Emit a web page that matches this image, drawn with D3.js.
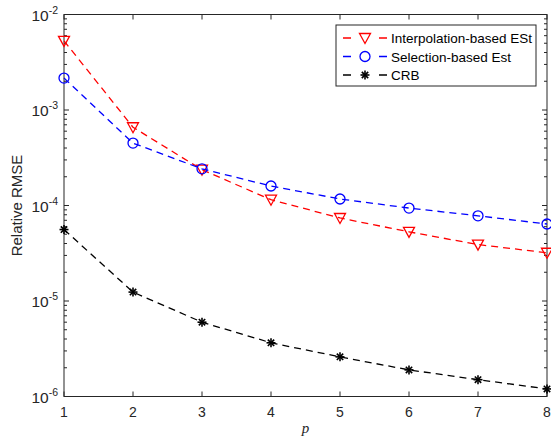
<!DOCTYPE html>
<html>
<head>
<meta charset="utf-8">
<script src="https://cdn.jsdelivr.net/npm/d3@7"></script>
<style>
  body { margin: 0; background: #fff; }
  svg text { font-family: "Liberation Sans", Arial, sans-serif; }
</style>
</head>
<body>
<div id="chart"></div>
<script>
// valori (scala log)
const pValues = [1, 2, 3, 4, 5, 6, 7, 8];
const interpEst = [5.3e-3, 6.6e-4, 2.37e-4, 1.15e-4, 7.4e-5, 5.3e-5, 3.9e-5, 3.2e-5];
const selectEst = [2.16e-3, 4.5e-4, 2.42e-4, 1.6e-4, 1.17e-4, 9.4e-5, 7.8e-5, 6.4e-5];
const crb = [5.6e-5, 1.24e-5, 6.0e-6, 3.65e-6, 2.6e-6, 1.9e-6, 1.5e-6, 1.2e-6];
const yDecades = [-6, -5, -4, -3, -2];
const seriesNames = ['Interpolation-based ESt', 'Selection-based Est', 'CRB'];

const width = 551, height = 439;
const margin = { top: 14.5, right: 4, bottom: 42.5, left: 64 };
const w = width - margin.left - margin.right;
const h = height - margin.top - margin.bottom;
const axisColor = '#262626';

const svg = d3.select('#chart').append('svg')
  .attr('width', width).attr('height', height);

const g = svg.append('g')
  .attr('transform', `translate(${margin.left},${margin.top})`);

const x = d3.scaleLinear().domain([1, 8]).range([0, w]);
const y = d3.scaleLog().domain([1e-6, 1e-2]).range([h, 0]);

// tick minori del log (2..9 per decade)
const minorTicks = [];
yDecades.slice(0, -1).forEach(e => {
  for (let k = 2; k <= 9; k++) minorTicks.push(k * Math.pow(10, e));
});

// assi con tick rivolti all'interno, su tutti e quattro i lati
function drawYTicks(x0, dir) {
  const t = g.append('g');
  t.selectAll('.maj').data(yDecades).join('line')
    .attr('x1', x0).attr('x2', x0 + dir * 5)
    .attr('y1', d => y(Math.pow(10, d))).attr('y2', d => y(Math.pow(10, d)))
    .attr('stroke', axisColor);
  t.selectAll('.min').data(minorTicks).join('line')
    .attr('x1', x0).attr('x2', x0 + dir * 3)
    .attr('y1', d => y(d)).attr('y2', d => y(d))
    .attr('stroke', axisColor);
}
function drawXTicks(y0, dir) {
  g.append('g').selectAll('line').data(pValues).join('line')
    .attr('x1', d => x(d)).attr('x2', d => x(d))
    .attr('y1', y0).attr('y2', y0 + dir * 5)
    .attr('stroke', axisColor);
}
drawYTicks(0, 1);
drawYTicks(w, -1);
drawXTicks(h, -1);
drawXTicks(0, 1);

g.append('rect')
  .attr('width', w).attr('height', h)
  .attr('fill', 'none').attr('stroke', axisColor).attr('stroke-width', 1);

// etichette asse x
g.append('g').selectAll('text').data(pValues).join('text')
  .attr('x', d => x(d)).attr('y', h + 20)
  .attr('text-anchor', 'middle')
  .style('font-size', '14px').style('fill', axisColor)
  .text(d => d);

// etichette asse y: 10^e
const yLab = g.append('g').selectAll('text').data(yDecades).join('text')
  .attr('x', -6).attr('y', d => y(Math.pow(10, d)) + 6)
  .attr('text-anchor', 'end')
  .style('font-size', '15.5px').style('fill', axisColor);
yLab.append('tspan').text('10');
yLab.append('tspan').attr('dy', -7).style('font-size', '10.5px').text(d => d);

svg.append('text')
  .attr('transform', `translate(22,${margin.top + h / 2}) rotate(-90)`)
  .attr('text-anchor', 'middle')
  .style('font-size', '15px').style('fill', axisColor)
  .text('Relative RMSE');

svg.append('text')
  .attr('x', margin.left + w / 2).attr('y', height - 6)
  .attr('text-anchor', 'middle')
  .style('font-family', '"Liberation Serif", "DejaVu Serif", serif')
  .style('font-style', 'italic')
  .style('font-size', '15px').style('fill', axisColor)
  .text('p');

// serie
const series = [
  { name: seriesNames[0], values: interpEst, color: '#ff0000', marker: 'tri' },
  { name: seriesNames[1], values: selectEst, color: '#0000ff', marker: 'circle' },
  { name: seriesNames[2], values: crb, color: '#000000', marker: 'star' }
];

const line = d3.line().x((d, i) => x(pValues[i])).y(d => y(d));

function drawMarker(sel, type, color) {
  if (type === 'tri') {
    sel.append('path')
      .attr('d', 'M-5.5,-4.5 L5.5,-4.5 L0,5.5 Z')
      .attr('fill', 'none').attr('stroke', color).attr('stroke-width', 1.3);
  } else if (type === 'circle') {
    sel.append('circle').attr('r', 5)
      .attr('fill', 'none').attr('stroke', color).attr('stroke-width', 1.3);
  } else {
    const r = 4.5;
    [0, 45, 90, 135].forEach(a => {
      const rad = a * Math.PI / 180;
      sel.append('line')
        .attr('x1', -r * Math.sin(rad)).attr('y1', -r * Math.cos(rad))
        .attr('x2', r * Math.sin(rad)).attr('y2', r * Math.cos(rad))
        .attr('stroke', color).attr('stroke-width', 1.6);
    });
  }
}

series.forEach(s => {
  g.append('path')
    .attr('d', line(s.values))
    .attr('fill', 'none')
    .attr('stroke', s.color)
    .attr('stroke-width', 1.3)
    .attr('stroke-dasharray', '7,5');
  g.append('g').selectAll('g').data(s.values).join('g')
    .attr('transform', (d, i) => `translate(${x(pValues[i])},${y(d)})`)
    .each(function() { drawMarker(d3.select(this), s.marker, s.color); });
});

// legenda
const leg = svg.append('g').attr('transform', 'translate(336,25)');
leg.append('rect')
  .attr('width', 200).attr('height', 61)
  .attr('fill', '#fff').attr('stroke', axisColor).attr('stroke-width', 1);

series.forEach((s, i) => {
  const row = leg.append('g').attr('transform', `translate(0,${13 + i * 18.5})`);
  row.append('line')
    .attr('x1', 7).attr('x2', 51).attr('y1', 0).attr('y2', 0)
    .attr('stroke', s.color).attr('stroke-width', 1.3)
    .attr('stroke-dasharray', '8,28');
  row.append('g').attr('transform', 'translate(29,0)')
    .each(function() { drawMarker(d3.select(this), s.marker, s.color); });
  row.append('text')
    .attr('x', 55).attr('y', 5)
    .style('font-size', '13.5px').style('fill', '#000')
    .text(s.name);
});
</script>
</body>
</html>
